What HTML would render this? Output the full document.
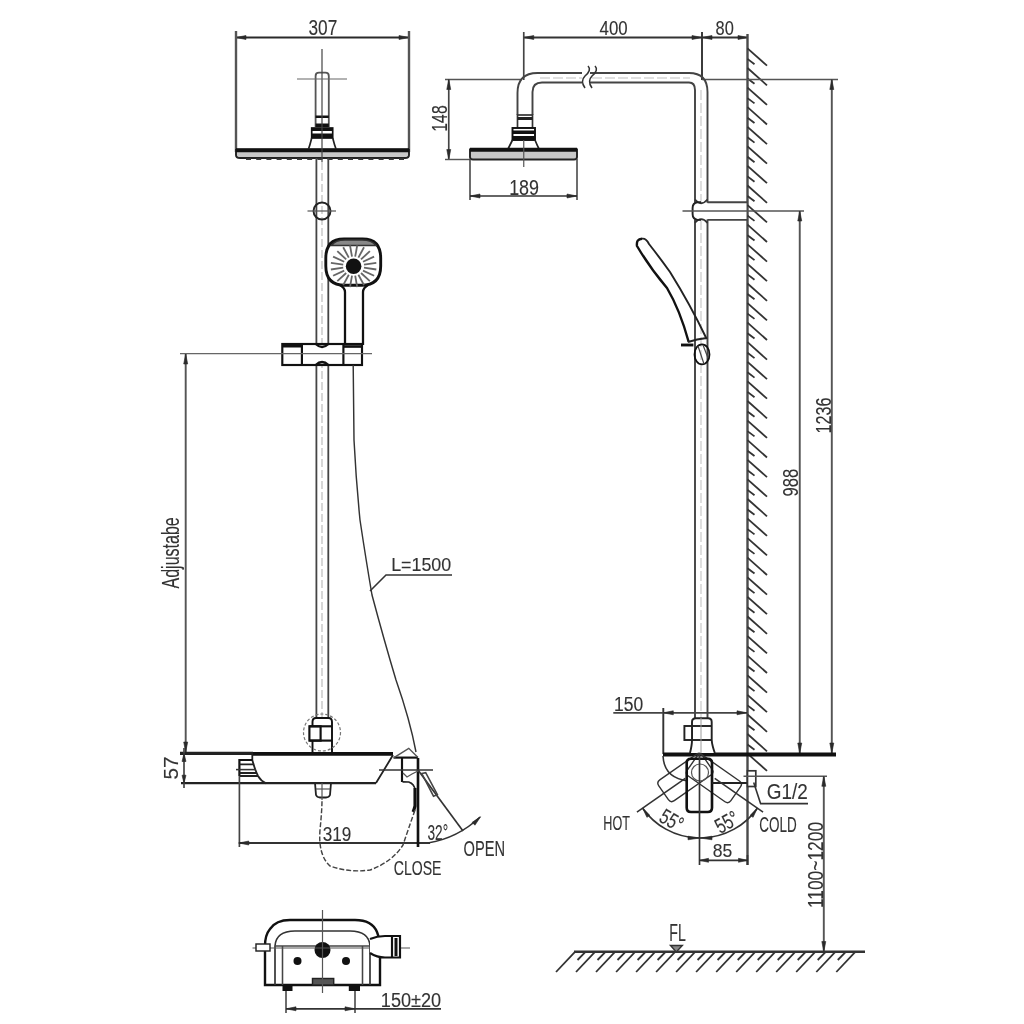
<!DOCTYPE html>
<html><head><meta charset="utf-8"><style>
html,body{margin:0;padding:0;background:#fff;}
svg{display:block;filter:blur(0.45px);}
text{font-family:"Liberation Sans",sans-serif;}
</style></head><body>
<svg width="1024" height="1024" viewBox="0 0 1024 1024">
<rect x="0" y="0" width="1024" height="1024" fill="#fff"/>
<line x1="236" y1="37.5" x2="409" y2="37.5" stroke="#2a2a2a" stroke-width="1.92" />
<path d="M236.00,37.50 L246.00,35.50 L246.00,39.50 Z" fill="#2a2a2a" stroke="#2a2a2a" stroke-width="0.6"/>
<path d="M409.00,37.50 L399.00,39.50 L399.00,35.50 Z" fill="#2a2a2a" stroke="#2a2a2a" stroke-width="0.6"/>
<line x1="236" y1="31" x2="236" y2="152" stroke="#555" stroke-width="2.40" />
<line x1="409" y1="31" x2="409" y2="152" stroke="#555" stroke-width="2.40" />
<text transform="translate(308.51,35.00) scale(0.806,1)" font-size="21.43" fill="#333" stroke="#333" stroke-width="0.12">307</text>
<path d="M236,150 L409,150" stroke="#111" stroke-width="3.60" fill="none" />
<path d="M236,150 L236,155 Q236,158 240,158 L405,158 Q409,158 409,155 L409,150 Z" stroke="#222" stroke-width="1.92" fill="#c8c8c8" />
<path d="M236,150.5 L409,150.5" stroke="#111" stroke-width="3.60" fill="none" />
<line x1="246.0" y1="159" x2="251.0" y2="159" stroke="#333" stroke-width="1.92" />
<line x1="256.2" y1="159" x2="261.2" y2="159" stroke="#333" stroke-width="1.92" />
<line x1="266.4" y1="159" x2="271.4" y2="159" stroke="#333" stroke-width="1.92" />
<line x1="276.6" y1="159" x2="281.6" y2="159" stroke="#333" stroke-width="1.92" />
<line x1="286.8" y1="159" x2="291.8" y2="159" stroke="#333" stroke-width="1.92" />
<line x1="297.0" y1="159" x2="302.0" y2="159" stroke="#333" stroke-width="1.92" />
<line x1="307.2" y1="159" x2="312.2" y2="159" stroke="#333" stroke-width="1.92" />
<line x1="317.4" y1="159" x2="322.4" y2="159" stroke="#333" stroke-width="1.92" />
<line x1="327.6" y1="159" x2="332.6" y2="159" stroke="#333" stroke-width="1.92" />
<line x1="337.8" y1="159" x2="342.8" y2="159" stroke="#333" stroke-width="1.92" />
<line x1="348.0" y1="159" x2="353.0" y2="159" stroke="#333" stroke-width="1.92" />
<line x1="358.2" y1="159" x2="363.2" y2="159" stroke="#333" stroke-width="1.92" />
<line x1="368.4" y1="159" x2="373.4" y2="159" stroke="#333" stroke-width="1.92" />
<line x1="378.6" y1="159" x2="383.6" y2="159" stroke="#333" stroke-width="1.92" />
<line x1="388.79999999999995" y1="159" x2="393.79999999999995" y2="159" stroke="#333" stroke-width="1.92" />
<line x1="399.0" y1="159" x2="404.0" y2="159" stroke="#333" stroke-width="1.92" />
<path d="M315.6,127 L315.6,76 Q315.6,72.7 319,72.7 L325.4,72.7 Q328.8,72.7 328.8,76 L328.8,127" stroke="#555" stroke-width="1.80" fill="none" />
<rect x="315.6" y="115.5" width="13.2" height="2.5" rx="0" stroke="#111" stroke-width="0.00" fill="#111" />
<rect x="315.6" y="123.5" width="13.2" height="3.5" rx="0" stroke="#111" stroke-width="0.00" fill="#111" />
<rect x="311.7" y="128" width="21" height="10" rx="0" stroke="#111" stroke-width="1.68" fill="#fff" />
<rect x="311.7" y="128" width="21" height="3" rx="0" stroke="#111" stroke-width="0.00" fill="#111" />
<rect x="311.7" y="133.5" width="21" height="4.5" rx="0" stroke="#111" stroke-width="0.00" fill="#111" />
<path d="M311.7,138 Q310,145 308.5,149 M332.7,138 Q334.5,145 336,149" stroke="#222" stroke-width="1.68" fill="none" />
<line x1="322" y1="49" x2="322" y2="162" stroke="#444" stroke-width="1.20" />
<line x1="297" y1="79" x2="347" y2="79" stroke="#666" stroke-width="1.20" />
<line x1="316.4" y1="158" x2="316.4" y2="718" stroke="#444" stroke-width="1.80" />
<line x1="328.3" y1="158" x2="328.3" y2="718" stroke="#444" stroke-width="1.80" />
<line x1="322" y1="162" x2="322" y2="718" stroke="#aaa" stroke-width="0.96" stroke-dasharray="8,3"/>
<circle cx="322" cy="211" r="8.5" stroke="#222" stroke-width="1.92" fill="none" />
<line x1="307.5" y1="211" x2="336" y2="211" stroke="#555" stroke-width="1.20" />
<path d="M345,345 L345,292 Q345,288 340,285 M363,345 L363,292 Q363,288 368,285" stroke="#111" stroke-width="2.28" fill="none" />
<path d="M344,239 L362.5,239 Q380.7,239 380.7,258 L380.7,266 Q380.7,285.3 361.5,285.3 L345,285.3 Q325.8,285.3 325.8,266 L325.8,258 Q325.8,239 344,239 Z" stroke="#111" stroke-width="2.88" fill="#fff" />
<path d="M331.5,245.5 Q335,240 345,240 L362,240 Q372,240 376,245.5 Z" stroke="#333" stroke-width="1.44" fill="#888" />
<circle cx="353.6" cy="266.2" r="7.8" stroke="#111" stroke-width="0.00" fill="#111" />
<line x1="364.0" y1="267.7" x2="376.3" y2="269.5" stroke="#666" stroke-width="1.80" />
<line x1="363.0" y1="270.6" x2="374.1" y2="275.8" stroke="#666" stroke-width="1.80" />
<line x1="361.0" y1="273.0" x2="369.9" y2="281.2" stroke="#666" stroke-width="1.80" />
<line x1="358.4" y1="274.8" x2="364.0" y2="285.1" stroke="#666" stroke-width="1.80" />
<line x1="355.2" y1="275.7" x2="357.2" y2="287.1" stroke="#666" stroke-width="1.80" />
<line x1="352.0" y1="275.7" x2="350.0" y2="287.1" stroke="#666" stroke-width="1.80" />
<line x1="348.8" y1="274.8" x2="343.2" y2="285.1" stroke="#666" stroke-width="1.80" />
<line x1="346.2" y1="273.0" x2="337.3" y2="281.2" stroke="#666" stroke-width="1.80" />
<line x1="344.2" y1="270.6" x2="333.1" y2="275.8" stroke="#666" stroke-width="1.80" />
<line x1="343.2" y1="267.7" x2="330.9" y2="269.5" stroke="#666" stroke-width="1.80" />
<line x1="343.2" y1="264.7" x2="330.9" y2="262.9" stroke="#666" stroke-width="1.80" />
<line x1="344.2" y1="261.8" x2="333.1" y2="256.6" stroke="#666" stroke-width="1.80" />
<line x1="346.2" y1="259.4" x2="337.3" y2="251.2" stroke="#666" stroke-width="1.80" />
<line x1="348.8" y1="257.6" x2="343.2" y2="247.3" stroke="#666" stroke-width="1.80" />
<line x1="352.0" y1="256.7" x2="350.0" y2="245.3" stroke="#666" stroke-width="1.80" />
<line x1="355.2" y1="256.7" x2="357.2" y2="245.3" stroke="#666" stroke-width="1.80" />
<line x1="358.4" y1="257.6" x2="364.0" y2="247.3" stroke="#666" stroke-width="1.80" />
<line x1="361.0" y1="259.4" x2="369.9" y2="251.2" stroke="#666" stroke-width="1.80" />
<line x1="363.0" y1="261.8" x2="374.1" y2="256.6" stroke="#666" stroke-width="1.80" />
<line x1="364.0" y1="264.7" x2="376.3" y2="262.9" stroke="#666" stroke-width="1.80" />
<rect x="282.3" y="344" width="79.7" height="21" rx="0" stroke="#111" stroke-width="2.16" fill="#fff" />
<line x1="301.9" y1="344" x2="301.9" y2="365" stroke="#111" stroke-width="2.16" />
<line x1="343.4" y1="344" x2="343.4" y2="365" stroke="#111" stroke-width="2.16" />
<rect x="282.3" y="344" width="19.6" height="3.5" rx="0" stroke="#111" stroke-width="0.00" fill="#111" />
<path d="M315.6,344 Q322,350 328.6,344" stroke="#111" stroke-width="2.16" fill="none" />
<path d="M315.6,365 Q322,359 328.6,365" stroke="#111" stroke-width="2.16" fill="none" />
<line x1="343.4" y1="346.5" x2="362" y2="346.5" stroke="#111" stroke-width="2.64" />
<line x1="180" y1="353.7" x2="372" y2="353.7" stroke="#666" stroke-width="1.20" />
<line x1="185.7" y1="354" x2="185.7" y2="752" stroke="#555" stroke-width="1.92" />
<path d="M185.70,354.00 L187.70,364.00 L183.70,364.00 Z" fill="#2a2a2a" stroke="#2a2a2a" stroke-width="0.6"/>
<path d="M185.70,752.00 L183.70,742.00 L187.70,742.00 Z" fill="#2a2a2a" stroke="#2a2a2a" stroke-width="0.6"/>
<text transform="translate(178.80,588.50) rotate(-90) scale(0.691,1)" font-size="23.19" fill="#333" stroke="#333" stroke-width="0.12">Adjustabe</text>
<path d="M353.2,365 L354,440 Q356,480 360,520 Q366,560 372,595 Q384,640 396,680 Q410,720 416,752" stroke="#333" stroke-width="1.44" fill="none" />
<path d="M370,591 L386,575 L452,575" stroke="#333" stroke-width="1.56" fill="none" />
<text transform="translate(391.17,571.00) scale(0.954,1)" font-size="18.71" fill="#333" stroke="#333" stroke-width="0.12">L=1500</text>
<line x1="180" y1="753.4" x2="253" y2="753.4" stroke="#222" stroke-width="3.12" />
<line x1="253" y1="753.8" x2="393" y2="753.8" stroke="#111" stroke-width="3.84" />
<line x1="181" y1="783.2" x2="376" y2="783.2" stroke="#222" stroke-width="2.16" />
<path d="M252.3,753 L252.3,760 Q255,770 258,776 Q261,781 266,783.4" stroke="#222" stroke-width="1.80" fill="none" />
<path d="M239.4,776 L239.4,760 L252.3,760" stroke="#111" stroke-width="2.16" fill="none" />
<path d="M239.4,764.3 L253.5,764.3 M239.4,773 L257,773 M239.4,776 L258,776" stroke="#222" stroke-width="1.80" fill="none" />
<line x1="236" y1="769.6" x2="256" y2="769.6" stroke="#333" stroke-width="1.56" />
<path d="M393,755 Q384,770 376,783" stroke="#222" stroke-width="1.80" fill="none" />
<line x1="184" y1="748" x2="184" y2="788" stroke="#444" stroke-width="1.68" />
<path d="M184.00,753.50 L186.00,761.50 L182.00,761.50 Z" fill="#2a2a2a" stroke="#2a2a2a" stroke-width="0.6"/>
<path d="M184.00,783.20 L182.00,775.20 L186.00,775.20 Z" fill="#2a2a2a" stroke="#2a2a2a" stroke-width="0.6"/>
<text transform="translate(178.00,779.52) rotate(-90) scale(0.994,1)" font-size="20.71" fill="#333" stroke="#333" stroke-width="0.12">57</text>
<path d="M312.5,753 L312.5,722 Q312.5,718 316,718 L328.5,718 Q332,718 332,722 L332,753" stroke="#111" stroke-width="1.92" fill="none" />
<rect x="309.4" y="726.3" width="11.2" height="14.3" rx="0" stroke="#111" stroke-width="2.16" fill="#fff" />
<line x1="309.4" y1="726.3" x2="332" y2="726.3" stroke="#111" stroke-width="2.16" />
<line x1="309.4" y1="740.6" x2="332" y2="740.6" stroke="#111" stroke-width="2.16" />
<circle cx="322" cy="732.5" r="18.5" stroke="#777" stroke-width="1.20" fill="none" stroke-dasharray="3,2"/>
<path d="M315,783 L316,795 Q317,797.5 320,797.5 L326,797.5 Q329,797.5 330,795 L331,783" stroke="#222" stroke-width="1.80" fill="none" />
<line x1="316" y1="789" x2="330" y2="789" stroke="#555" stroke-width="1.20" />
<line x1="322" y1="783" x2="322" y2="800" stroke="#555" stroke-width="1.20" />
<line x1="239.4" y1="776" x2="239.4" y2="847" stroke="#444" stroke-width="1.68" />
<line x1="238.8" y1="843" x2="430" y2="843" stroke="#333" stroke-width="1.92" />
<path d="M238.80,843.00 L248.80,841.00 L248.80,845.00 Z" fill="#2a2a2a" stroke="#2a2a2a" stroke-width="0.6"/>
<text transform="translate(322.71,841.20) scale(0.840,1)" font-size="20.43" fill="#333" stroke="#333" stroke-width="0.12">319</text>
<line x1="418" y1="758" x2="418" y2="847" stroke="#111" stroke-width="2.64" />
<line x1="402" y1="758" x2="402" y2="782" stroke="#111" stroke-width="2.16" />
<line x1="393.5" y1="757.6" x2="418" y2="757.6" stroke="#111" stroke-width="2.16" />
<line x1="379" y1="770" x2="433" y2="770" stroke="#333" stroke-width="1.56" />
<path d="M394,757.6 L408.75,748.3 L418,757.6" stroke="#555" stroke-width="1.44" fill="none" />
<path d="M402.5,781.9 L408.75,782 Q414.5,784 415,790" stroke="#222" stroke-width="1.68" fill="none" />
<path d="M415,788 L415,806 Q414,810 413,812" stroke="#111" stroke-width="3.12" fill="none" />
<path d="M418,770 L463,831" stroke="#333" stroke-width="1.68" fill="none" />
<path d="M421.8,773.5 L425.7,772.7 L437.4,794.6 L433.5,796.2 Z" stroke="#444" stroke-width="1.56" fill="none" />
<path d="M403,773 L407,777 L412,774 L418,771" stroke="#555" stroke-width="1.32" fill="none" />
<path d="M428,843 Q458,838 480,817" stroke="#333" stroke-width="1.56" fill="none" />
<path d="M480.60,816.70 L474.94,825.19 L472.11,822.36 Z" fill="#2a2a2a" stroke="#2a2a2a" stroke-width="0.6"/>
<path d="M415,810 Q408,830 403,845 Q392,862 370,870 Q350,873 330,866 Q318,855 320,830 Q322,810 322,800" stroke="#444" stroke-width="1.44" fill="none" stroke-dasharray="5,2"/>
<text transform="translate(427.45,839.50) scale(0.639,1)" font-size="21.43" fill="#333" stroke="#333" stroke-width="0.12">32°</text>
<text transform="translate(463.54,855.80) scale(0.678,1)" font-size="21.59" fill="#333" stroke="#333" stroke-width="0.12">OPEN</text>
<text transform="translate(393.69,874.80) scale(0.681,1)" font-size="20.72" fill="#333" stroke="#333" stroke-width="0.12">CLOSE</text>
<path d="M265,985 L265,946 Q265,935 270,929 Q276,920 290,920 L355,920 Q372,920 377,932 Q380,940 380,946 L380,985 Z" stroke="#111" stroke-width="2.40" fill="#fff" />
<path d="M275,985 L275,946 Q276,931 295,931 L350,931 Q369,931 370,946 L370,985" stroke="#333" stroke-width="1.68" fill="none" />
<line x1="282.5" y1="946" x2="282.5" y2="985" stroke="#444" stroke-width="1.56" />
<line x1="362.5" y1="946" x2="362.5" y2="985" stroke="#444" stroke-width="1.56" />
<line x1="275" y1="946" x2="370" y2="946" stroke="#444" stroke-width="1.56" />
<circle cx="322.5" cy="950" r="8" stroke="#111" stroke-width="0.00" fill="#111" />
<circle cx="297.5" cy="961" r="4" stroke="#111" stroke-width="0.00" fill="#111" />
<circle cx="346" cy="961" r="4" stroke="#111" stroke-width="0.00" fill="#111" />
<rect x="312.5" y="978.5" width="21.2" height="6.5" rx="0" stroke="#222" stroke-width="1.44" fill="#555" />
<rect x="282.5" y="985" width="10" height="6" rx="0" stroke="#111" stroke-width="0.00" fill="#111" />
<rect x="348.8" y="985" width="11.2" height="6" rx="0" stroke="#111" stroke-width="0.00" fill="#111" />
<line x1="322.5" y1="910" x2="322.5" y2="993" stroke="#555" stroke-width="1.20" />
<line x1="252.5" y1="948" x2="410" y2="948" stroke="#555" stroke-width="1.20" />
<rect x="256" y="944" width="14" height="7" rx="0" stroke="#222" stroke-width="1.44" fill="#fff" />
<path d="M370,939 Q377,936 385,936 L400,936 L400,957.5 L385,957.5 Q377,957.5 370,953" stroke="#111" stroke-width="2.16" fill="#fff" />
<line x1="392" y1="936" x2="392" y2="957.5" stroke="#111" stroke-width="2.16" />
<line x1="396" y1="938" x2="396" y2="956" stroke="#111" stroke-width="3.00" />
<line x1="286" y1="991" x2="286" y2="1013" stroke="#444" stroke-width="1.56" />
<line x1="355" y1="991" x2="355" y2="1013" stroke="#444" stroke-width="1.56" />
<line x1="286" y1="1008.8" x2="441" y2="1008.8" stroke="#333" stroke-width="1.68" />
<path d="M286.00,1008.80 L296.00,1006.80 L296.00,1010.80 Z" fill="#2a2a2a" stroke="#2a2a2a" stroke-width="0.6"/>
<path d="M355.00,1008.80 L345.00,1010.80 L345.00,1006.80 Z" fill="#2a2a2a" stroke="#2a2a2a" stroke-width="0.6"/>
<text transform="translate(380.84,1007.20) scale(0.864,1)" font-size="21.00" fill="#333" stroke="#333" stroke-width="0.12">150±20</text>
<line x1="523.75" y1="37.5" x2="748" y2="37.5" stroke="#333" stroke-width="1.92" />
<path d="M523.75,37.50 L533.75,35.50 L533.75,39.50 Z" fill="#2a2a2a" stroke="#2a2a2a" stroke-width="0.6"/>
<path d="M702.00,37.50 L692.00,39.50 L692.00,35.50 Z" fill="#2a2a2a" stroke="#2a2a2a" stroke-width="0.6"/>
<path d="M702.00,37.50 L712.00,35.50 L712.00,39.50 Z" fill="#2a2a2a" stroke="#2a2a2a" stroke-width="0.6"/>
<path d="M748.00,37.50 L738.00,39.50 L738.00,35.50 Z" fill="#2a2a2a" stroke="#2a2a2a" stroke-width="0.6"/>
<line x1="523.75" y1="32" x2="523.75" y2="80" stroke="#444" stroke-width="1.68" />
<line x1="702" y1="32" x2="702" y2="80" stroke="#333" stroke-width="1.92" />
<text transform="translate(599.56,34.70) scale(0.842,1)" font-size="20.00" fill="#333" stroke="#333" stroke-width="0.12">400</text>
<text transform="translate(715.56,34.70) scale(0.809,1)" font-size="20.29" fill="#333" stroke="#333" stroke-width="0.12">80</text>
<line x1="747.5" y1="34" x2="747.5" y2="865" stroke="#4a4a4a" stroke-width="2.40" />
<line x1="747.5" y1="48.4" x2="767" y2="65.7" stroke="#333" stroke-width="1.80" />
<line x1="747.5" y1="58.9" x2="754.5" y2="64.2" stroke="#333" stroke-width="1.80" />
<line x1="747.5" y1="68.0" x2="767" y2="85.3" stroke="#333" stroke-width="1.80" />
<line x1="747.5" y1="78.5" x2="754.5" y2="83.8" stroke="#333" stroke-width="1.80" />
<line x1="747.5" y1="87.6" x2="767" y2="104.9" stroke="#333" stroke-width="1.80" />
<line x1="747.5" y1="98.1" x2="754.5" y2="103.4" stroke="#333" stroke-width="1.80" />
<line x1="747.5" y1="107.2" x2="767" y2="124.5" stroke="#333" stroke-width="1.80" />
<line x1="747.5" y1="117.7" x2="754.5" y2="123.0" stroke="#333" stroke-width="1.80" />
<line x1="747.5" y1="126.8" x2="767" y2="144.1" stroke="#333" stroke-width="1.80" />
<line x1="747.5" y1="137.3" x2="754.5" y2="142.6" stroke="#333" stroke-width="1.80" />
<line x1="747.5" y1="146.3" x2="767" y2="163.7" stroke="#333" stroke-width="1.80" />
<line x1="747.5" y1="156.8" x2="754.5" y2="162.2" stroke="#333" stroke-width="1.80" />
<line x1="747.5" y1="165.9" x2="767" y2="183.2" stroke="#333" stroke-width="1.80" />
<line x1="747.5" y1="176.4" x2="754.5" y2="181.7" stroke="#333" stroke-width="1.80" />
<line x1="747.5" y1="185.5" x2="767" y2="202.8" stroke="#333" stroke-width="1.80" />
<line x1="747.5" y1="196.0" x2="754.5" y2="201.3" stroke="#333" stroke-width="1.80" />
<line x1="747.5" y1="205.1" x2="767" y2="222.4" stroke="#333" stroke-width="1.80" />
<line x1="747.5" y1="215.6" x2="754.5" y2="220.9" stroke="#333" stroke-width="1.80" />
<line x1="747.5" y1="224.7" x2="767" y2="242.0" stroke="#333" stroke-width="1.80" />
<line x1="747.5" y1="235.2" x2="754.5" y2="240.5" stroke="#333" stroke-width="1.80" />
<line x1="747.5" y1="244.3" x2="767" y2="261.6" stroke="#333" stroke-width="1.80" />
<line x1="747.5" y1="254.8" x2="754.5" y2="260.1" stroke="#333" stroke-width="1.80" />
<line x1="747.5" y1="263.9" x2="767" y2="281.2" stroke="#333" stroke-width="1.80" />
<line x1="747.5" y1="274.4" x2="754.5" y2="279.7" stroke="#333" stroke-width="1.80" />
<line x1="747.5" y1="283.5" x2="767" y2="300.8" stroke="#333" stroke-width="1.80" />
<line x1="747.5" y1="294.0" x2="754.5" y2="299.3" stroke="#333" stroke-width="1.80" />
<line x1="747.5" y1="303.1" x2="767" y2="320.4" stroke="#333" stroke-width="1.80" />
<line x1="747.5" y1="313.6" x2="754.5" y2="318.9" stroke="#333" stroke-width="1.80" />
<line x1="747.5" y1="322.7" x2="767" y2="340.0" stroke="#333" stroke-width="1.80" />
<line x1="747.5" y1="333.2" x2="754.5" y2="338.5" stroke="#333" stroke-width="1.80" />
<line x1="747.5" y1="342.2" x2="767" y2="359.6" stroke="#333" stroke-width="1.80" />
<line x1="747.5" y1="352.8" x2="754.5" y2="358.1" stroke="#333" stroke-width="1.80" />
<line x1="747.5" y1="361.8" x2="767" y2="379.1" stroke="#333" stroke-width="1.80" />
<line x1="747.5" y1="372.3" x2="754.5" y2="377.6" stroke="#333" stroke-width="1.80" />
<line x1="747.5" y1="381.4" x2="767" y2="398.7" stroke="#333" stroke-width="1.80" />
<line x1="747.5" y1="391.9" x2="754.5" y2="397.2" stroke="#333" stroke-width="1.80" />
<line x1="747.5" y1="401.0" x2="767" y2="418.3" stroke="#333" stroke-width="1.80" />
<line x1="747.5" y1="411.5" x2="754.5" y2="416.8" stroke="#333" stroke-width="1.80" />
<line x1="747.5" y1="420.6" x2="767" y2="437.9" stroke="#333" stroke-width="1.80" />
<line x1="747.5" y1="431.1" x2="754.5" y2="436.4" stroke="#333" stroke-width="1.80" />
<line x1="747.5" y1="440.2" x2="767" y2="457.5" stroke="#333" stroke-width="1.80" />
<line x1="747.5" y1="450.7" x2="754.5" y2="456.0" stroke="#333" stroke-width="1.80" />
<line x1="747.5" y1="459.8" x2="767" y2="477.1" stroke="#333" stroke-width="1.80" />
<line x1="747.5" y1="470.3" x2="754.5" y2="475.6" stroke="#333" stroke-width="1.80" />
<line x1="747.5" y1="479.4" x2="767" y2="496.7" stroke="#333" stroke-width="1.80" />
<line x1="747.5" y1="489.9" x2="754.5" y2="495.2" stroke="#333" stroke-width="1.80" />
<line x1="747.5" y1="499.0" x2="767" y2="516.3" stroke="#333" stroke-width="1.80" />
<line x1="747.5" y1="509.5" x2="754.5" y2="514.8" stroke="#333" stroke-width="1.80" />
<line x1="747.5" y1="518.6" x2="767" y2="535.9" stroke="#333" stroke-width="1.80" />
<line x1="747.5" y1="529.1" x2="754.5" y2="534.4" stroke="#333" stroke-width="1.80" />
<line x1="747.5" y1="538.1" x2="767" y2="555.4" stroke="#333" stroke-width="1.80" />
<line x1="747.5" y1="548.6" x2="754.5" y2="553.9" stroke="#333" stroke-width="1.80" />
<line x1="747.5" y1="557.7" x2="767" y2="575.0" stroke="#333" stroke-width="1.80" />
<line x1="747.5" y1="568.2" x2="754.5" y2="573.5" stroke="#333" stroke-width="1.80" />
<line x1="747.5" y1="577.3" x2="767" y2="594.6" stroke="#333" stroke-width="1.80" />
<line x1="747.5" y1="587.8" x2="754.5" y2="593.1" stroke="#333" stroke-width="1.80" />
<line x1="747.5" y1="596.9" x2="767" y2="614.2" stroke="#333" stroke-width="1.80" />
<line x1="747.5" y1="607.4" x2="754.5" y2="612.7" stroke="#333" stroke-width="1.80" />
<line x1="747.5" y1="616.5" x2="767" y2="633.8" stroke="#333" stroke-width="1.80" />
<line x1="747.5" y1="627.0" x2="754.5" y2="632.3" stroke="#333" stroke-width="1.80" />
<line x1="747.5" y1="636.1" x2="767" y2="653.4" stroke="#333" stroke-width="1.80" />
<line x1="747.5" y1="646.6" x2="754.5" y2="651.9" stroke="#333" stroke-width="1.80" />
<line x1="747.5" y1="655.7" x2="767" y2="673.0" stroke="#333" stroke-width="1.80" />
<line x1="747.5" y1="666.2" x2="754.5" y2="671.5" stroke="#333" stroke-width="1.80" />
<line x1="747.5" y1="675.3" x2="767" y2="692.6" stroke="#333" stroke-width="1.80" />
<line x1="747.5" y1="685.8" x2="754.5" y2="691.1" stroke="#333" stroke-width="1.80" />
<line x1="747.5" y1="694.9" x2="767" y2="712.2" stroke="#333" stroke-width="1.80" />
<line x1="747.5" y1="705.4" x2="754.5" y2="710.7" stroke="#333" stroke-width="1.80" />
<line x1="747.5" y1="714.5" x2="767" y2="731.8" stroke="#333" stroke-width="1.80" />
<line x1="747.5" y1="725.0" x2="754.5" y2="730.3" stroke="#333" stroke-width="1.80" />
<line x1="747.5" y1="734.0" x2="767" y2="751.3" stroke="#333" stroke-width="1.80" />
<line x1="747.5" y1="744.5" x2="754.5" y2="749.8" stroke="#333" stroke-width="1.80" />
<line x1="747.5" y1="753.6" x2="767" y2="770.9" stroke="#333" stroke-width="1.80" />
<line x1="445" y1="79.5" x2="522" y2="79.5" stroke="#555" stroke-width="1.44" />
<line x1="702" y1="79.5" x2="838" y2="79.5" stroke="#555" stroke-width="1.44" />
<path d="M517.5,115 L517.5,93 Q517.5,73 537.5,73 L689,73 Q707.5,73 707.5,92 L707.5,718" stroke="#444" stroke-width="1.92" fill="none" />
<path d="M532.5,115 L532.5,92 Q532.5,82.5 542,82.5 L689,82.5 Q695,82.5 695,90 L695,718" stroke="#444" stroke-width="1.92" fill="none" />
<line x1="540" y1="78" x2="690" y2="78" stroke="#bbb" stroke-width="0.96" stroke-dasharray="10,3"/>
<line x1="701" y1="90" x2="701" y2="718" stroke="#bbb" stroke-width="0.96" stroke-dasharray="10,3"/>
<rect x="582" y="70" width="8" height="16" fill="#fff"/>
<path d="M588,66 Q592,70 585,76 Q580,81 585,88 M595,66 Q599,70 592,76 Q587,81 592,88" stroke="#333" stroke-width="1.56" fill="none" />
<rect x="517.5" y="115" width="15" height="13" rx="0" stroke="#333" stroke-width="1.68" fill="#fff" />
<rect x="517.5" y="117" width="15" height="3" rx="0" stroke="#222" stroke-width="0.00" fill="#222" />
<rect x="512.5" y="128" width="22.5" height="12" rx="0" stroke="#111" stroke-width="1.92" fill="#fff" />
<rect x="512.5" y="130.5" width="22.5" height="3.5" rx="0" stroke="#111" stroke-width="0.00" fill="#111" />
<rect x="512.5" y="136" width="22.5" height="4" rx="0" stroke="#111" stroke-width="0.00" fill="#111" />
<path d="M512.5,140 Q510,145 508,149 M535,140 Q537,145 539,149" stroke="#222" stroke-width="1.68" fill="none" />
<path d="M470,149.5 L577,149.5" stroke="#111" stroke-width="3.36" fill="none" />
<path d="M470,149.5 L470,157 Q470,159.5 473,159.5 L574,159.5 Q577,159.5 577,157 L577,149.5 Z" stroke="#222" stroke-width="1.92" fill="#c8c8c8" />
<path d="M470,150 L577,150" stroke="#111" stroke-width="3.36" fill="none" />
<line x1="523.75" y1="140" x2="523.75" y2="167" stroke="#555" stroke-width="1.20" />
<line x1="448.75" y1="79.5" x2="448.75" y2="159.5" stroke="#444" stroke-width="1.68" />
<path d="M448.75,79.50 L450.75,89.50 L446.75,89.50 Z" fill="#2a2a2a" stroke="#2a2a2a" stroke-width="0.6"/>
<path d="M448.75,159.50 L446.75,149.50 L450.75,149.50 Z" fill="#2a2a2a" stroke="#2a2a2a" stroke-width="0.6"/>
<line x1="445" y1="159.5" x2="470" y2="159.5" stroke="#555" stroke-width="1.44" />
<text transform="translate(447.00,131.69) rotate(-90) scale(0.738,1)" font-size="21.43" fill="#333" stroke="#333" stroke-width="0.12">148</text>
<line x1="470" y1="159" x2="470" y2="200" stroke="#444" stroke-width="1.56" />
<line x1="577" y1="159" x2="577" y2="200" stroke="#444" stroke-width="1.56" />
<line x1="470" y1="196" x2="577" y2="196" stroke="#333" stroke-width="1.68" />
<path d="M470.00,196.00 L480.00,194.00 L480.00,198.00 Z" fill="#2a2a2a" stroke="#2a2a2a" stroke-width="0.6"/>
<path d="M577.00,196.00 L567.00,198.00 L567.00,194.00 Z" fill="#2a2a2a" stroke="#2a2a2a" stroke-width="0.6"/>
<text transform="translate(509.16,194.50) scale(0.820,1)" font-size="21.86" fill="#333" stroke="#333" stroke-width="0.12">189</text>
<rect x="693.5" y="202.8" width="52.8" height="16.6" fill="#fff"/>
<path d="M695,199.5 Q701,207 707.5,199.5" stroke="#333" stroke-width="1.80" fill="none" />
<path d="M695,222.8 Q701,215.3 707.5,222.8" stroke="#333" stroke-width="1.80" fill="none" />
<path d="M707.5,202.3 L747.5,202.3 M707.5,219.9 L747.5,219.9" stroke="#444" stroke-width="1.92" fill="none" />
<path d="M697.5,202.3 Q692.6,203 692.6,208 L692.6,214 Q692.6,219 697.5,219.9 L701,219.9 M697.5,202.3 L701,202.3" stroke="#222" stroke-width="1.92" fill="none" />
<line x1="682.5" y1="211" x2="804" y2="211" stroke="#555" stroke-width="1.44" />
<line x1="799.75" y1="211" x2="799.75" y2="753" stroke="#555" stroke-width="1.92" />
<path d="M799.75,211.00 L801.75,221.00 L797.75,221.00 Z" fill="#2a2a2a" stroke="#2a2a2a" stroke-width="0.6"/>
<path d="M799.75,753.00 L797.75,743.00 L801.75,743.00 Z" fill="#2a2a2a" stroke="#2a2a2a" stroke-width="0.6"/>
<text transform="translate(798.40,496.45) rotate(-90) scale(0.779,1)" font-size="21.29" fill="#333" stroke="#333" stroke-width="0.12">988</text>
<line x1="831.8" y1="79.5" x2="831.8" y2="753" stroke="#555" stroke-width="1.92" />
<path d="M831.80,79.50 L833.80,89.50 L829.80,89.50 Z" fill="#2a2a2a" stroke="#2a2a2a" stroke-width="0.6"/>
<path d="M831.80,753.00 L829.80,743.00 L833.80,743.00 Z" fill="#2a2a2a" stroke="#2a2a2a" stroke-width="0.6"/>
<text transform="translate(830.80,433.42) rotate(-90) scale(0.727,1)" font-size="22.29" fill="#333" stroke="#333" stroke-width="0.12">1236</text>
<path d="M642,238.7 Q636,239 637,246 Q650,268 667,288 Q680,310 688.7,342" stroke="#111" stroke-width="2.40" fill="none" />
<path d="M642,238.7 Q646,238 649,244 Q660,258 670,272 Q690,304 706.7,339" stroke="#222" stroke-width="1.92" fill="none" />
<path d="M688,342 Q697,339 706.7,338" stroke="#222" stroke-width="1.92" fill="none" />
<ellipse cx="702" cy="354.4" rx="7.5" ry="10" stroke="#111" stroke-width="1.8" fill="none"/>
<line x1="681" y1="345" x2="693.4" y2="345" stroke="#111" stroke-width="2.88" />
<path d="M698,346 L704,364 M703,345 L708,358" stroke="#444" stroke-width="1.20" fill="none" />
<line x1="663.3" y1="708" x2="663.3" y2="754" stroke="#333" stroke-width="1.92" />
<line x1="613.3" y1="712.8" x2="747" y2="712.8" stroke="#444" stroke-width="1.68" />
<path d="M663.30,712.80 L673.30,710.80 L673.30,714.80 Z" fill="#2a2a2a" stroke="#2a2a2a" stroke-width="0.6"/>
<path d="M747.00,712.80 L737.00,714.80 L737.00,710.80 Z" fill="#2a2a2a" stroke="#2a2a2a" stroke-width="0.6"/>
<text transform="translate(613.99,710.80) scale(0.833,1)" font-size="21.00" fill="#333" stroke="#333" stroke-width="0.12">150</text>
<line x1="663" y1="754.5" x2="836" y2="754.5" stroke="#111" stroke-width="4.08" />
<path d="M690,753 Q692,745 692,740 L692,722 Q692,718.3 696,718.3 L708,718.3 Q711.7,718.3 711.7,722 L711.7,740 Q712,745 714.8,753" stroke="#222" stroke-width="1.92" fill="#fff" />
<line x1="692" y1="726" x2="711.7" y2="726" stroke="#222" stroke-width="1.92" />
<line x1="692" y1="740" x2="711.7" y2="740" stroke="#222" stroke-width="1.92" />
<rect x="684.4" y="726" width="7.6" height="14" rx="0" stroke="#222" stroke-width="1.92" fill="#fff" />
<line x1="701" y1="718" x2="701" y2="753" stroke="#999" stroke-width="0.96" />
<path d="M663,756 Q664,778 688,781" stroke="#333" stroke-width="1.56" fill="none" />
<g transform="rotate(55,700,768)"><path d="M691,758.8 L707.7,758.8 Q712,758.8 712,763 L712,807.8 Q712,812 707.7,812 L691,812 Q686.7,812 686.7,807.8 L686.7,763 Q686.7,758.8 691,758.8 Z" stroke="#333" stroke-width="1.4" fill="none"/></g>
<g transform="rotate(-55,700,768)"><path d="M691,758.8 L707.7,758.8 Q712,758.8 712,763 L712,807.8 Q712,812 707.7,812 L691,812 Q686.7,812 686.7,807.8 L686.7,763 Q686.7,758.8 691,758.8 Z" stroke="#333" stroke-width="1.4" fill="none"/></g>
<path d="M691,758.8 L707.7,758.8 Q712,758.8 712,763 L712,807.8 Q712,812 707.7,812 L691,812 Q686.7,812 686.7,807.8 L686.7,763 Q686.7,758.8 691,758.8 Z" stroke="#111" stroke-width="2.64" fill="none" />
<circle cx="700" cy="772.5" r="8.5" stroke="#555" stroke-width="1.20" fill="none" />
<line x1="712" y1="783" x2="747" y2="783" stroke="#222" stroke-width="1.92" />
<line x1="699.5" y1="754" x2="699.5" y2="865" stroke="#333" stroke-width="1.68" />
<path d="M642.66,808.15 A70,70 0 0,0 757.34,808.15" stroke="#333" stroke-width="1.68" fill="none" />
<line x1="685.26" y1="778.32" x2="636.93" y2="812.17" stroke="#333" stroke-width="1.56" />
<line x1="714.74" y1="778.32" x2="763.07" y2="812.17" stroke="#333" stroke-width="1.56" />
<path d="M642.66,808.15 L649.87,815.31 L646.92,817.37 Z" fill="#2a2a2a" stroke="#2a2a2a" stroke-width="0.6"/>
<path d="M757.34,808.15 L753.08,817.37 L750.13,815.31 Z" fill="#2a2a2a" stroke="#2a2a2a" stroke-width="0.6"/>
<path d="M700.00,838.00 L688.00,839.80 L688.00,836.20 Z" fill="#2a2a2a" stroke="#2a2a2a" stroke-width="0.6"/>
<path d="M700.00,838.00 L712.00,836.20 L712.00,839.80 Z" fill="#2a2a2a" stroke="#2a2a2a" stroke-width="0.6"/>
<g transform="rotate(30,671.5,820)"><text transform="translate(659.88,827.50) scale(0.728,1)" font-size="21.43" fill="#333" stroke="#333" stroke-width="0.12">55°</text></g>
<g transform="rotate(-30,726.5,822)"><text transform="translate(714.88,829.50) scale(0.728,1)" font-size="21.43" fill="#333" stroke="#333" stroke-width="0.12">55°</text></g>
<text transform="translate(603.29,829.50) scale(0.641,1)" font-size="19.71" fill="#333" stroke="#333" stroke-width="0.12">HOT</text>
<text transform="translate(759.33,832.20) scale(0.616,1)" font-size="21.88" fill="#333" stroke="#333" stroke-width="0.12">COLD</text>
<rect x="747.5" y="770.8" width="8.3" height="15.7" rx="0" stroke="#333" stroke-width="1.68" fill="#fff" />
<path d="M753.7,782.4 L760.6,803.6 L808,803.6" stroke="#333" stroke-width="1.56" fill="none" />
<text transform="translate(766.85,798.50) scale(0.840,1)" font-size="22.54" fill="#333" stroke="#333" stroke-width="0.12">G1/2</text>
<line x1="743.5" y1="776.3" x2="827" y2="776.3" stroke="#555" stroke-width="1.56" />
<line x1="823.8" y1="776.3" x2="823.8" y2="951.5" stroke="#555" stroke-width="1.92" />
<path d="M823.80,776.30 L825.80,786.30 L821.80,786.30 Z" fill="#2a2a2a" stroke="#2a2a2a" stroke-width="0.6"/>
<path d="M823.80,951.50 L821.80,941.50 L825.80,941.50 Z" fill="#2a2a2a" stroke="#2a2a2a" stroke-width="0.6"/>
<text transform="translate(822.90,908.10) rotate(-90) scale(0.822,1)" font-size="21.14" fill="#333" stroke="#333" stroke-width="0.12">1100~1200</text>
<line x1="747.5" y1="855" x2="747.5" y2="865" stroke="#333" stroke-width="1.68" />
<line x1="699.5" y1="860.3" x2="747.5" y2="860.3" stroke="#333" stroke-width="1.68" />
<path d="M699.50,860.30 L708.50,858.30 L708.50,862.30 Z" fill="#2a2a2a" stroke="#2a2a2a" stroke-width="0.6"/>
<path d="M747.50,860.30 L738.50,862.30 L738.50,858.30 Z" fill="#2a2a2a" stroke="#2a2a2a" stroke-width="0.6"/>
<text transform="translate(712.71,857.40) scale(0.953,1)" font-size="18.43" fill="#333" stroke="#333" stroke-width="0.12">85</text>
<line x1="574" y1="951.8" x2="865" y2="951.8" stroke="#333" stroke-width="2.40" />
<line x1="575.0" y1="951.8" x2="556.0" y2="972" stroke="#333" stroke-width="1.80" />
<line x1="585.5" y1="951.8" x2="577.5" y2="960" stroke="#333" stroke-width="1.80" />
<line x1="595.0" y1="951.8" x2="576.0" y2="972" stroke="#333" stroke-width="1.80" />
<line x1="605.5" y1="951.8" x2="597.5" y2="960" stroke="#333" stroke-width="1.80" />
<line x1="615.0" y1="951.8" x2="596.0" y2="972" stroke="#333" stroke-width="1.80" />
<line x1="625.5" y1="951.8" x2="617.5" y2="960" stroke="#333" stroke-width="1.80" />
<line x1="635.1" y1="951.8" x2="616.1" y2="972" stroke="#333" stroke-width="1.80" />
<line x1="645.6" y1="951.8" x2="637.6" y2="960" stroke="#333" stroke-width="1.80" />
<line x1="655.1" y1="951.8" x2="636.1" y2="972" stroke="#333" stroke-width="1.80" />
<line x1="665.6" y1="951.8" x2="657.6" y2="960" stroke="#333" stroke-width="1.80" />
<line x1="675.1" y1="951.8" x2="656.1" y2="972" stroke="#333" stroke-width="1.80" />
<line x1="685.6" y1="951.8" x2="677.6" y2="960" stroke="#333" stroke-width="1.80" />
<line x1="695.1" y1="951.8" x2="676.1" y2="972" stroke="#333" stroke-width="1.80" />
<line x1="705.6" y1="951.8" x2="697.6" y2="960" stroke="#333" stroke-width="1.80" />
<line x1="715.1" y1="951.8" x2="696.1" y2="972" stroke="#333" stroke-width="1.80" />
<line x1="725.6" y1="951.8" x2="717.6" y2="960" stroke="#333" stroke-width="1.80" />
<line x1="735.2" y1="951.8" x2="716.2" y2="972" stroke="#333" stroke-width="1.80" />
<line x1="745.7" y1="951.8" x2="737.7" y2="960" stroke="#333" stroke-width="1.80" />
<line x1="755.2" y1="951.8" x2="736.2" y2="972" stroke="#333" stroke-width="1.80" />
<line x1="765.7" y1="951.8" x2="757.7" y2="960" stroke="#333" stroke-width="1.80" />
<line x1="775.2" y1="951.8" x2="756.2" y2="972" stroke="#333" stroke-width="1.80" />
<line x1="785.7" y1="951.8" x2="777.7" y2="960" stroke="#333" stroke-width="1.80" />
<line x1="795.2" y1="951.8" x2="776.2" y2="972" stroke="#333" stroke-width="1.80" />
<line x1="805.7" y1="951.8" x2="797.7" y2="960" stroke="#333" stroke-width="1.80" />
<line x1="815.2" y1="951.8" x2="796.2" y2="972" stroke="#333" stroke-width="1.80" />
<line x1="825.7" y1="951.8" x2="817.7" y2="960" stroke="#333" stroke-width="1.80" />
<line x1="835.3" y1="951.8" x2="816.3" y2="972" stroke="#333" stroke-width="1.80" />
<line x1="845.8" y1="951.8" x2="837.8" y2="960" stroke="#333" stroke-width="1.80" />
<line x1="855.3" y1="951.8" x2="836.3" y2="972" stroke="#333" stroke-width="1.80" />
<text transform="translate(669.27,940.90) scale(0.613,1)" font-size="23.04" fill="#333" stroke="#333" stroke-width="0.12">FL</text>
<path d="M670.5,945.5 L682.3,945.5 L676.3,952 Z" stroke="#333" stroke-width="1.44" fill="#888" />
</svg></body></html>
